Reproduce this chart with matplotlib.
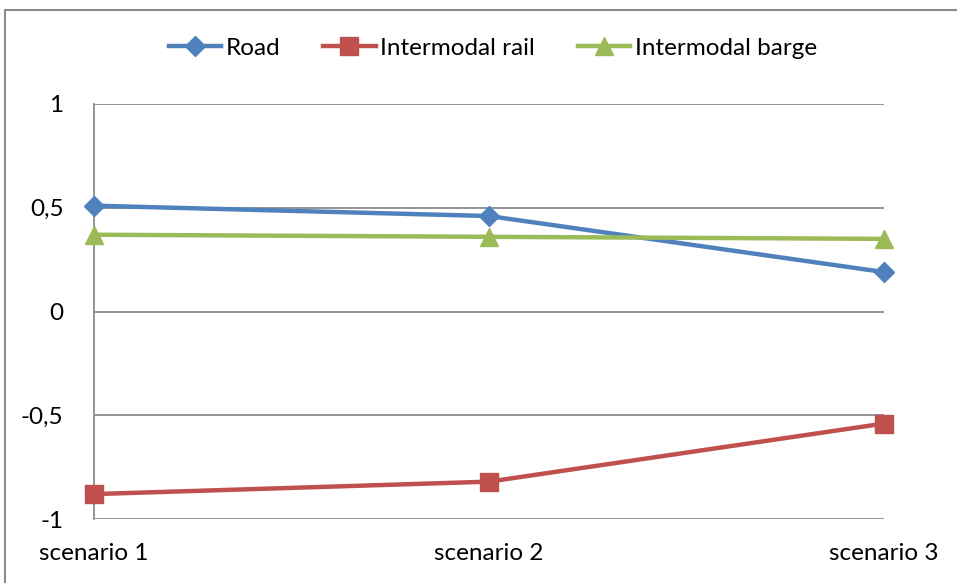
import matplotlib
matplotlib.use("Agg")
import matplotlib.pyplot as plt
from matplotlib.patches import Rectangle

plt.rcParams['font.family'] = ['Lato', 'DejaVu Sans']

categories = ["scenario 1", "scenario 2", "scenario 3"]
road = [0.51, 0.46, 0.19]
rail = [-0.88, -0.82, -0.54]
barge = [0.37, 0.36, 0.35]
y_ticks = [-1, -0.5, 0, 0.5, 1]
y_labels = ["-1", "-0,5", "0", "0,5", "1"]

fig = plt.figure(figsize=(9.57, 5.83), dpi=100)
ax = fig.add_axes([94/957, 1 - 519/583, (884 - 94)/957, (519 - 104)/583])

# outer chart frame
fig.patches.append(Rectangle((5/957, -0.1), 1.2, 1 - 10/583 + 0.1, transform=fig.transFigure,
                             fill=False, edgecolor="#8c8c8c", linewidth=1.5))

x = list(range(len(categories)))
ax.plot(x, road, color="#4F81BD", lw=3.2, marker="D", ms=10, label="Road", zorder=3, clip_on=False)
ax.plot(x, rail, color="#C0504D", lw=3.2, marker="s", ms=13, label="Intermodal rail", zorder=3, clip_on=False)
ax.plot(x, barge, color="#9BBB59", lw=3.2, marker="^", ms=13, label="Intermodal barge", zorder=3, clip_on=False)

ax.set_xlim(0, 2)
ax.set_ylim(-1, 1)
ax.set_yticks(y_ticks)
ax.set_yticklabels(y_labels)
ax.set_xticks(x)
ax.set_xticklabels(categories)
ax.tick_params(axis="both", length=0, labelsize=17.5, colors="black")
ax.tick_params(axis="y", pad=22)
ax.tick_params(axis="x", pad=17)
ax.grid(axis="y", color="#8c8c8c", lw=1.3)
for side in ["top", "right", "bottom"]:
    ax.spines[side].set_visible(False)
ax.spines["left"].set_color("#8c8c8c")
ax.spines["left"].set_linewidth(1.3)
ax.set_axisbelow(True)

fig.legend(loc="center", bbox_to_anchor=(493/957, 1 - 48/583), ncol=3, frameon=False,
           fontsize=17.5, handlelength=2.15, handletextpad=0.2, columnspacing=1.75)

fig.savefig("out.png", dpi=100)
